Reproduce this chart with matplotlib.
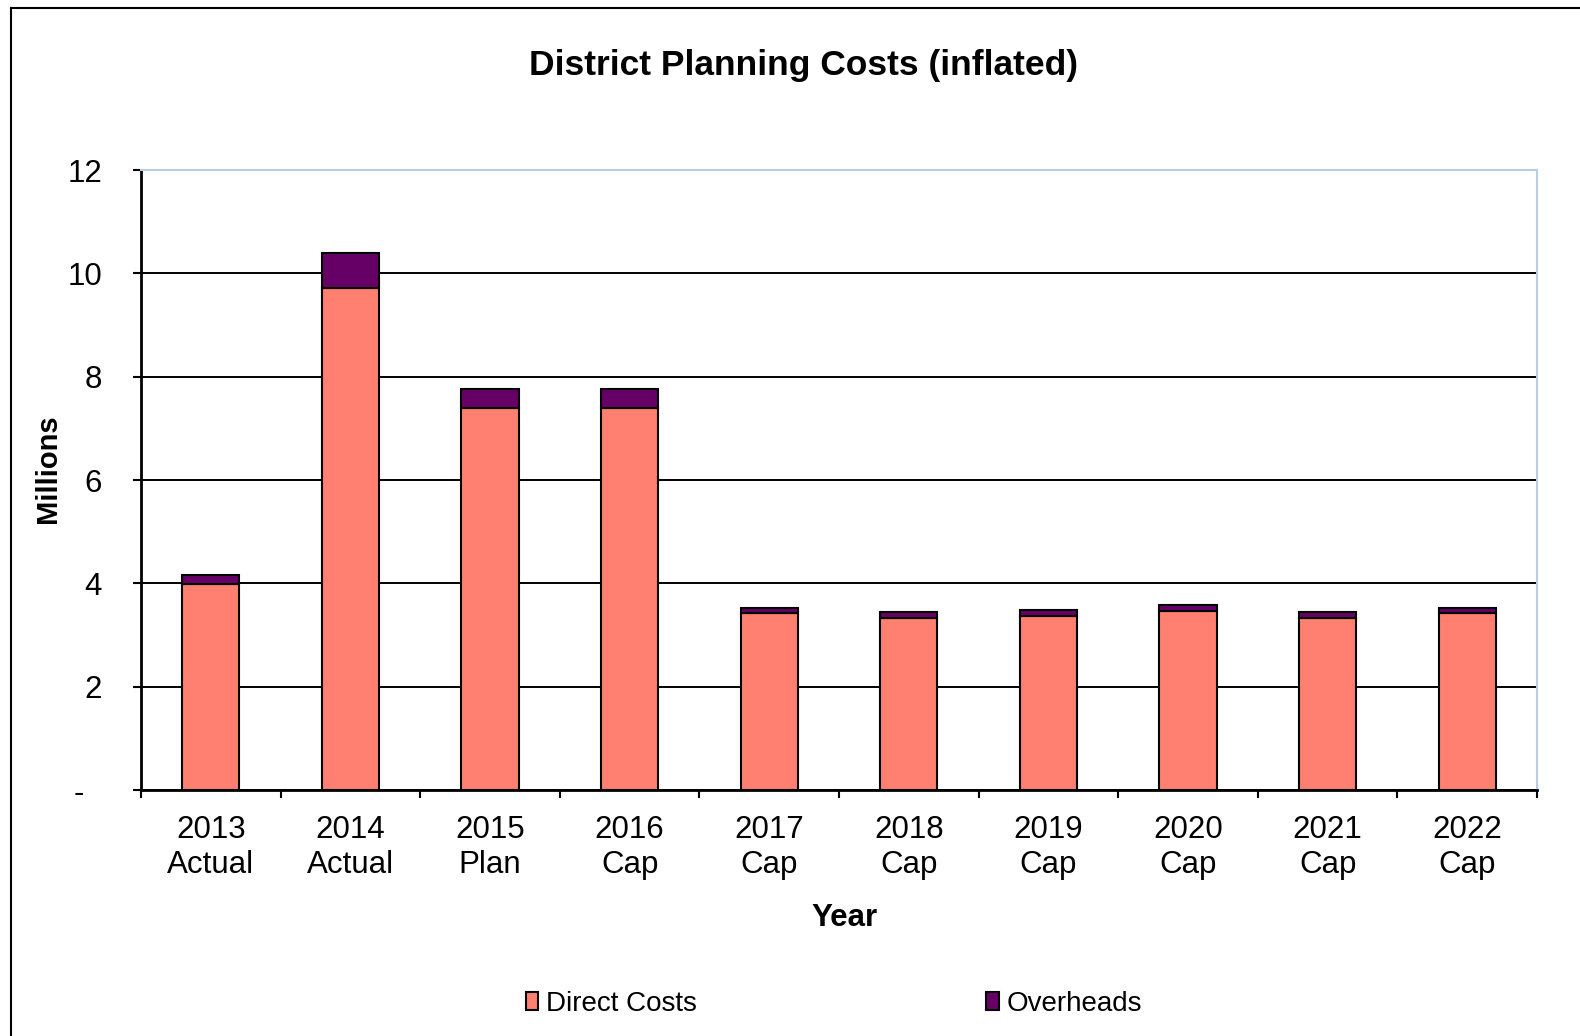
import matplotlib
matplotlib.use("Agg")
import matplotlib.pyplot as plt
from matplotlib.lines import Line2D
import numpy as np

plt.rcParams['font.family'] = ['Liberation Sans', 'DejaVu Sans']

years = ["2013", "2014", "2015", "2016", "2017", "2018", "2019", "2020", "2021", "2022"]
kinds = ["Actual", "Actual", "Plan", "Cap", "Cap", "Cap", "Cap", "Cap", "Cap", "Cap"]
direct_costs = [3.99, 9.72, 7.39, 7.39, 3.42, 3.32, 3.37, 3.47, 3.33, 3.42]
overheads = [0.18, 0.67, 0.37, 0.37, 0.11, 0.12, 0.12, 0.11, 0.11, 0.11]
yticks = [0, 2, 4, 6, 8, 10, 12]
ytick_labels = ["-  ", "2", "4", "6", "8", "10", "12"]

labels = [f"{y}\n{k}" for y, k in zip(years, kinds)]

W, H = 1580, 1036
fig = plt.figure(figsize=(W / 100, H / 100), dpi=100)
fig.patch.set_facecolor("white")

ax = fig.add_axes([141 / W, 1 - 790 / H, (1537 - 141) / W, (790 - 170) / H])

x = np.arange(len(years))
c_direct = "#FF8070"
c_over = "#660066"
ax.bar(x, direct_costs, width=0.41, color=c_direct, edgecolor="black", linewidth=1.5,
       label="Direct Costs", zorder=3)
ax.bar(x, overheads, width=0.41, bottom=direct_costs, color=c_over, edgecolor="black",
       linewidth=1.5, label="Overheads", zorder=3)

ax.set_xlim(-0.5, len(years) - 0.5)
ax.set_ylim(0, 12)
ax.set_yticks(yticks)
ax.set_yticklabels(ytick_labels, fontsize=22.5)
ax.tick_params(axis="y", direction="out", length=6, width=1.5, pad=22)

# major ticks at category boundaries, labels at centres
ax.set_xticks(np.arange(-0.5, len(years) + 0.5, 1.0))
ax.set_xticklabels([])
ax.set_xticks(x, minor=True)
ax.set_xticklabels(labels, minor=True, fontsize=22.5)
ax.tick_params(axis="x", which="major", direction="out", length=6, width=1.5)
ax.tick_params(axis="x", which="minor", length=0, pad=18)

ax.yaxis.grid(True, color="black", linewidth=1.4, zorder=1)
ax.set_axisbelow(True)

for s in ["top", "right"]:
    ax.spines[s].set_color("#B9CDE5")
    ax.spines[s].set_linewidth(1.5)
for s in ["left", "bottom"]:
    ax.spines[s].set_color("black")
    ax.spines[s].set_linewidth(2)

fig.text(803 / W, 1 - 66 / H, "District Planning Costs (inflated)", ha="center", va="center",
         fontsize=25.5, fontweight="bold")
fig.text(48 / W, 1 - 469 / H, "Millions", ha="center", va="center", rotation=90,
         fontsize=21, fontweight="bold")
fig.text(844 / W, 1 - 918 / H, "Year", ha="center", va="center", fontsize=22.5,
         fontweight="bold")

fig.legend(loc="center", bbox_to_anchor=(834 / W, 1 - 1004 / H), ncol=2, frameon=False,
           fontsize=20, handlelength=0.45, handleheight=0.6, handletextpad=0.3,
           columnspacing=10.4)

# outer chart border (left and top edges visible)
fig.add_artist(Line2D([11 / W, 11 / W], [0, 1 - 8 / H], transform=fig.transFigure,
                      color="black", linewidth=1.5))
fig.add_artist(Line2D([11 / W, 1], [1 - 8 / H, 1 - 8 / H], transform=fig.transFigure,
                      color="black", linewidth=1.5))

fig.savefig("out.png", dpi=100, facecolor="white")
